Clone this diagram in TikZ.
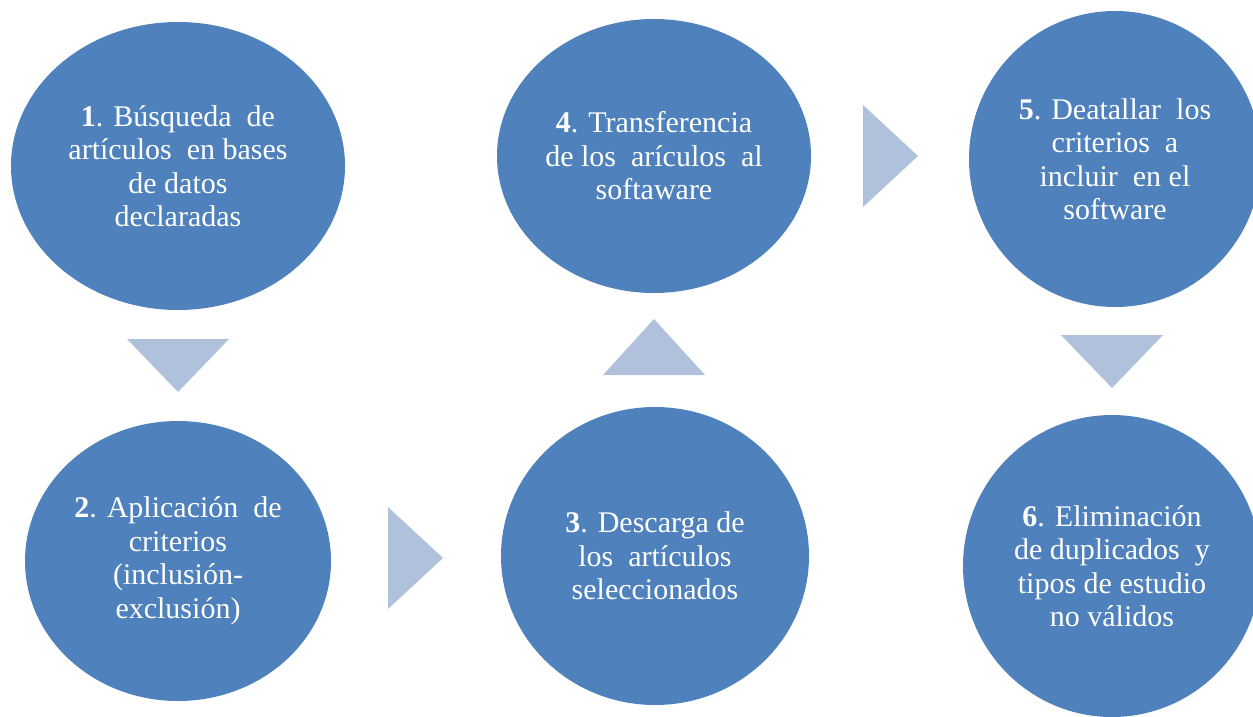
\documentclass[tikz,border=0pt]{standalone}
\usepackage{fontspec}
\setmainfont{Liberation Serif}
\usetikzlibrary{shapes.geometric}
\definecolor{circblue}{HTML}{4F81BD}
\definecolor{arrowblue}{HTML}{B0C1DC}
\begin{document}
\begin{tikzpicture}[x=1pt,y=-1pt,
  stepcircle/.style={ellipse, fill=circblue, text=white, align=center, inner sep=0pt,
    font=\fontsize{30}{33.5}\selectfont},
  flowarrow/.style={fill=arrowblue}]
\useasboundingbox (0,0) rectangle (1253,717);
\clip (0,0) rectangle (1253,717);
\node[stepcircle, minimum width=334pt, minimum height=288pt] (c1) at (178,166)
  {\textbf{1}. Búsqueda\ \ de\\artículos\ \ en bases\\de datos\\declaradas};
\node[stepcircle, minimum width=306pt, minimum height=280pt] (c2) at (178,561)
  {\textbf{2}. Aplicación\ \ de\\criterios\\(inclusión-\\exclusión)};
\node[stepcircle, minimum width=308pt, minimum height=298pt] (c3) at (655,556)
  {\textbf{3}. Descarga de\\los\ \ artículos\\seleccionados};
\node[stepcircle, minimum width=314pt, minimum height=274pt] (c4) at (654,156)
  {\textbf{4}. Transferencia\\de los\ \ arículos\ \ al\\softaware};
\node[stepcircle, minimum width=292pt, minimum height=296pt] (c5) at (1115,159)
  {\textbf{5}. Deatallar\ \ los\\criterios\ \ a\\incluir\ \ en el\\software};
\node[stepcircle, minimum width=298pt, minimum height=302pt] (c6) at (1112,566)
  {\textbf{6}. Eliminación\\de duplicados\ \ y\\tipos de estudio\\no válidos};
% flow arrows
\fill[flowarrow] (127,339) -- (229,339) -- (178,392) -- cycle;
\fill[flowarrow] (388,507) -- (443,558) -- (388,609) -- cycle;
\fill[flowarrow] (603,375) -- (705,375) -- (654,319) -- cycle;
\fill[flowarrow] (863,105) -- (918,156) -- (863,207) -- cycle;
\fill[flowarrow] (1061,335) -- (1163,335) -- (1112,388) -- cycle;
\end{tikzpicture}
\end{document}
